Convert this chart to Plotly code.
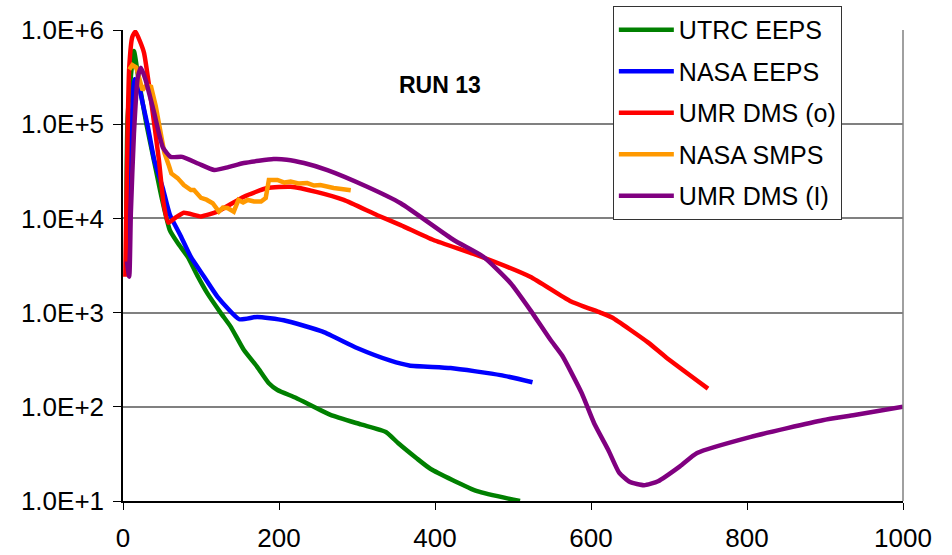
import plotly.graph_objects as go

# UTRC EEPS
utrc_x = [4, 6, 14, 20, 30, 40, 50, 60, 70, 83, 95, 108, 125, 138, 155, 172, 187, 198,
          222, 266, 305, 337, 353, 376, 394, 454, 509]
utrc_y = [3000, 120000, 600000, 300000, 100000, 40000, 16000, 7500, 5500, 3900, 2500, 1610,
          1000, 710, 400, 266, 178, 151, 124, 82, 65, 54, 41, 28.6, 22, 12.7, 10]

# NASA EEPS
neeps_x = [5, 10, 15, 20, 25, 32, 40, 51, 60, 74, 87, 104, 121, 149, 172, 206, 256, 300,
           343, 367, 420, 484, 525]
neeps_y = [3000, 60000, 300000, 260000, 170000, 93000, 42000, 21000, 11000, 6500, 3900, 2400,
           1480, 850, 900, 830, 627, 421, 309, 275, 258, 217, 182]

# UMR DMS (o)
umro_x = [3, 8, 12, 16, 22, 27, 36, 46, 52, 58, 66, 78, 100, 121, 155, 185, 215, 249, 283,
          326, 356, 398, 454, 522, 573, 612, 627, 673, 696, 750]
umro_y = [2400, 400000, 850000, 960000, 750000, 570000, 180000, 42000, 14500, 9000, 10000,
          11500, 10500, 11800, 17000, 21000, 21700, 19000, 15700, 10800, 8500, 5900, 4070,
          2400, 1330, 1000, 886, 483, 336, 156]

# NASA SMPS
smps_x = [8, 12, 17, 21, 25, 30, 36, 42, 48, 53, 59, 62, 70, 78, 87, 91, 100, 107, 115, 123,
          128, 134, 142, 148, 154, 160, 168, 177, 183, 187, 198, 207, 215, 225, 236, 245, 253,
          262, 270, 280, 292]
smps_y = [380000, 425000, 400000, 296000, 230000, 260000, 250000, 155000, 87000, 50000, 36000,
          30000, 26800, 22600, 20000, 20000, 16500, 15800, 14500, 11800, 13000, 12900, 11800,
          15700, 14800, 15700, 15100, 15100, 16500, 25600, 25600, 24000, 24600, 23500, 23700,
          22300, 22600, 21500, 21000, 20500, 19900]

# UMR DMS (I)
umri_x = [5, 8, 10, 14, 19, 23, 29, 40, 51, 61, 76, 97, 117, 135, 155, 193, 210, 232, 262,
          313, 356, 424, 462, 497, 522, 548, 563, 588, 604, 622, 636, 650, 668, 686, 714, 736,
          805, 897, 938, 1000]
umri_y = [3500, 2400, 11000, 79000, 316000, 397000, 295000, 131000, 57000, 45000, 45000,
          38000, 32600, 35000, 38700, 42600, 42000, 38700, 32600, 21700, 14500, 5900, 3920,
          2050, 1070, 515, 350, 140, 67, 35, 20, 15.9, 14.7, 16.2, 23.3, 32.3, 48, 72, 81.7, 100]

series_names = ["UTRC EEPS", "NASA EEPS", "UMR DMS (o)", "NASA SMPS", "UMR DMS (I)"]
series_colors = ["#008000", "#0000FF", "#FF0000", "#FF9900", "#800080"]

y_tickvals = [10, 100, 1000, 10000, 100000, 1000000]
y_ticktext = ["1.0E+1", "1.0E+2", "1.0E+3", "1.0E+4", "1.0E+5", "1.0E+6"]
x_tickvals = [0, 200, 400, 600, 800, 1000]

series = [
    (utrc_x, utrc_y, "spline"),
    (neeps_x, neeps_y, "spline"),
    (umro_x, umro_y, "spline"),
    (smps_x, smps_y, "linear"),
    (umri_x, umri_y, "spline"),
]

fig = go.Figure()
for i, ((xs, ys, shape), name, color) in enumerate(zip(series, series_names, series_colors)):
    fig.add_trace(go.Scatter(
        x=xs, y=ys, mode="lines", name=name, legendgroup=f"g{i}",
        line=dict(color=color, width=4.5, shape=shape,
                  smoothing=0.5 if shape == "spline" else None),
    ))

font_family = "Liberation Sans, Arial, sans-serif"

fig.update_layout(
    width=952, height=555,
    margin=dict(l=123, r=49, t=30, b=54, autoexpand=False),
    paper_bgcolor="white", plot_bgcolor="white",
    font=dict(family=font_family, size=26, color="black"),
    showlegend=True,
    legend=dict(
        x=0.628, y=1.051, xanchor="left", yanchor="top",
        bgcolor="white", bordercolor="#333333", borderwidth=1,
        font=dict(family=font_family, size=25, color="black"),
        tracegroupgap=6, traceorder="grouped", itemwidth=55,
    ),
    xaxis=dict(
        range=[0, 1000], tickvals=x_tickvals, showgrid=False, zeroline=False,
        showline=True, linecolor="black", linewidth=1.5,
        ticks="outside", ticklen=7, tickcolor="black", tickwidth=1,
        tickfont=dict(size=26), ticklabelstandoff=6, fixedrange=True,
    ),
    yaxis=dict(
        type="log", range=[1, 6], tickvals=y_tickvals, ticktext=y_ticktext,
        showgrid=True, gridcolor="#808080", gridwidth=1.5, zeroline=False,
        showline=True, linecolor="black", linewidth=1.5,
        ticks="outside", ticklen=8, tickcolor="black", tickwidth=1,
        tickfont=dict(size=26), ticklabelstandoff=4, fixedrange=True,
    ),
    annotations=[dict(
        text="<b>RUN 13</b>", x=0.406, y=0.883, xref="paper", yref="paper",
        xanchor="center", yanchor="middle",
        showarrow=False, font=dict(family=font_family, size=23, color="black"),
    )],
    shapes=[dict(
        type="line", xref="paper", yref="paper", x0=1, x1=1, y0=0, y1=1,
        line=dict(color="#808080", width=1.5),
    )],
)

fig.write_html("out.html")
